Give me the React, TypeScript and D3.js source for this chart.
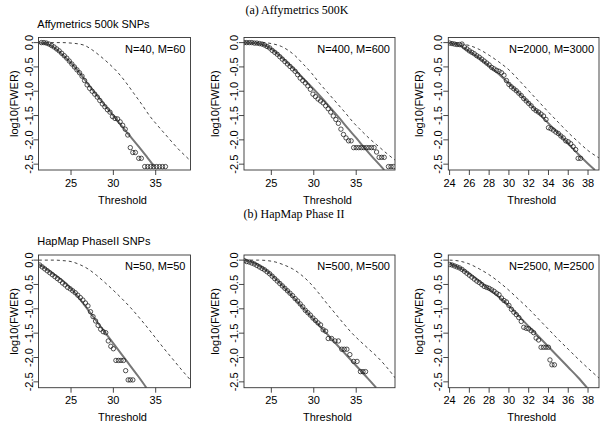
import { useEffect, useRef } from "react";
import * as d3 from "d3";

type Pt = [number, number];

// ---- observed log10(FWER) (circles) ----
const affy40Obs: Pt[] = [
  [21.5, 0], [21.8, 0], [22.1, -0.01], [22.4, -0.03], [22.7, -0.06], [23.0, -0.09],
  [23.3, -0.13], [23.6, -0.17], [23.9, -0.22], [24.2, -0.27], [24.5, -0.32], [24.8, -0.38],
  [25.1, -0.44], [25.4, -0.5], [25.7, -0.56], [26.0, -0.62], [26.3, -0.69], [26.6, -0.78],
  [26.9, -0.87], [27.2, -0.94], [27.5, -1.0], [27.8, -1.06], [28.1, -1.12], [28.4, -1.19],
  [28.7, -1.26], [29.0, -1.32], [29.3, -1.38], [29.6, -1.43], [29.9, -1.52], [30.2, -1.56],
  [30.5, -1.57], [30.8, -1.63], [31.1, -1.7], [31.4, -1.78], [31.7, -1.9], [32.0, -2.16],
  [32.3, -2.26], [32.6, -2.26], [33.0, -2.38], [33.3, -2.38], [33.7, -2.55], [34.05, -2.55],
  [34.4, -2.55], [34.75, -2.55], [35.1, -2.55], [35.45, -2.55], [35.8, -2.55], [36.15, -2.55],
];
const affy400Obs: Pt[] = [
  [21.8, 0], [22.1, 0], [22.4, 0], [22.7, 0], [23.0, -0.01], [23.3, -0.01], [23.6, -0.02],
  [23.9, -0.03], [24.2, -0.05], [24.5, -0.08], [24.8, -0.11], [25.1, -0.16], [25.4, -0.2],
  [25.7, -0.24], [26.0, -0.29], [26.3, -0.34], [26.6, -0.39], [26.9, -0.44], [27.2, -0.49],
  [27.5, -0.54], [27.8, -0.59], [28.1, -0.66], [28.4, -0.73], [28.7, -0.78], [29.0, -0.83],
  [29.3, -0.89], [29.6, -0.96], [29.9, -1.06], [30.2, -1.11], [30.5, -1.16], [30.8, -1.2],
  [31.1, -1.24], [31.4, -1.3], [31.7, -1.36], [32.0, -1.43], [32.3, -1.51], [32.6, -1.58],
  [32.9, -1.66], [33.2, -1.78], [33.5, -1.89], [33.8, -1.96], [34.1, -2.02], [34.4, -2.02],
  [34.7, -2.16], [35.0, -2.16], [35.3, -2.16], [35.6, -2.16], [35.9, -2.16], [36.2, -2.16],
  [36.5, -2.16], [36.8, -2.16], [37.1, -2.16], [37.4, -2.25], [37.7, -2.36], [38.0, -2.36],
  [38.3, -2.36], [38.8, -2.55], [39.1, -2.55], [39.4, -2.55],
];
const affy2000Obs: Pt[] = [
  [24.0, -0.01], [24.25, -0.02], [24.5, -0.03], [24.75, -0.04], [25.0, -0.04], [25.25, -0.03],
  [25.5, -0.09], [25.75, -0.13], [26.0, -0.17], [26.25, -0.2], [26.5, -0.23], [26.75, -0.27],
  [27.0, -0.3], [27.25, -0.34], [27.5, -0.38], [27.75, -0.42], [28.0, -0.46], [28.25, -0.51],
  [28.5, -0.54], [28.75, -0.57], [29.0, -0.59], [29.25, -0.62], [29.5, -0.67], [29.75, -0.78],
  [30.0, -0.86], [30.25, -0.91], [30.5, -0.95], [30.75, -0.99], [31.0, -1.04], [31.25, -1.09],
  [31.5, -1.15], [31.75, -1.2], [32.0, -1.25], [32.25, -1.3], [32.5, -1.36], [32.75, -1.4],
  [33.0, -1.43], [33.25, -1.47], [33.5, -1.51], [33.75, -1.58], [34.0, -1.75], [34.25, -1.77],
  [34.5, -1.8], [34.75, -1.84], [35.0, -1.87], [35.25, -1.92], [35.5, -1.96], [35.75, -2.02],
  [36.0, -2.04], [36.25, -2.08], [36.5, -2.14], [36.75, -2.2], [37.0, -2.38], [37.25, -2.38],
];
const hap50Obs: Pt[] = [
  [21.3, -0.1], [21.6, -0.14], [21.9, -0.18], [22.2, -0.22], [22.5, -0.26], [22.8, -0.3],
  [23.1, -0.34], [23.4, -0.38], [23.7, -0.42], [24.0, -0.47], [24.3, -0.51], [24.6, -0.56],
  [24.9, -0.59], [25.2, -0.63], [25.5, -0.67], [25.8, -0.72], [26.1, -0.77], [26.4, -0.82],
  [26.7, -0.88], [27.0, -0.94], [27.3, -1.06], [27.6, -1.16], [27.9, -1.25], [28.2, -1.34],
  [28.5, -1.42], [28.8, -1.47], [29.1, -1.49], [29.4, -1.66], [29.7, -1.77], [30.0, -1.82],
  [30.3, -2.06], [30.6, -2.06], [30.9, -2.06], [31.2, -2.06], [31.45, -2.27], [31.75, -2.46],
  [32.0, -2.46], [32.3, -2.46],
];
const hap500Obs: Pt[] = [
  [21.8, -0.01], [22.1, -0.03], [22.4, -0.04], [22.7, -0.06], [23.0, -0.08], [23.3, -0.11],
  [23.6, -0.14], [23.9, -0.17], [24.2, -0.2], [24.5, -0.24], [24.8, -0.28], [25.1, -0.33],
  [25.4, -0.38], [25.7, -0.43], [26.0, -0.48], [26.3, -0.53], [26.6, -0.58], [26.9, -0.63],
  [27.2, -0.68], [27.5, -0.73], [27.8, -0.79], [28.1, -0.84], [28.4, -0.9], [28.7, -0.96],
  [29.0, -1.03], [29.3, -1.08], [29.6, -1.13], [29.9, -1.19], [30.2, -1.24], [30.5, -1.29],
  [30.8, -1.33], [31.1, -1.43], [31.4, -1.46], [31.7, -1.61], [32.1, -1.61], [32.5, -1.66],
  [32.9, -1.66], [33.3, -1.83], [33.6, -1.83], [33.9, -1.83], [34.25, -1.94], [34.7, -2.08],
  [35.1, -2.08], [35.5, -2.29], [35.8, -2.29], [36.1, -2.29],
];
const hap2500Obs: Pt[] = [
  [24.0, -0.09], [24.25, -0.1], [24.5, -0.12], [24.75, -0.14], [25.0, -0.16], [25.25, -0.19],
  [25.5, -0.23], [25.75, -0.27], [26.0, -0.31], [26.25, -0.35], [26.5, -0.39], [26.75, -0.43],
  [27.0, -0.46], [27.25, -0.5], [27.5, -0.54], [27.75, -0.56], [28.0, -0.58], [28.25, -0.61],
  [28.5, -0.64], [28.75, -0.68], [29.0, -0.71], [29.25, -0.78], [29.5, -0.83], [29.75, -0.86],
  [30.0, -0.93], [30.25, -1.01], [30.5, -1.07], [30.75, -1.12], [31.0, -1.18], [31.25, -1.26],
  [31.5, -1.38], [31.75, -1.4], [32.0, -1.41], [32.25, -1.45], [32.5, -1.49], [32.75, -1.6],
  [33.0, -1.64], [33.25, -1.79], [33.5, -1.79], [33.75, -1.79], [34.0, -1.79], [34.15, -2.05],
  [34.35, -2.15], [34.6, -2.15],
];

// ---- approximation (solid grey line) ----
const affy40Approx: Pt[] = [
  [21.2, 0], [22, -0.02], [23, -0.1], [24, -0.25], [25, -0.42], [26, -0.62], [27, -0.85],
  [28, -1.07], [29, -1.29], [30, -1.5], [31, -1.72], [32, -1.93], [33, -2.14], [34, -2.36],
  [34.85, -2.55],
];
const affy400Approx: Pt[] = [
  [21.8, 0], [23, -0.01], [24, -0.04], [25, -0.13], [26, -0.27], [27, -0.43], [28, -0.6],
  [29, -0.78], [30, -0.96], [31, -1.15], [32, -1.35], [33, -1.55], [34, -1.76], [35, -1.96],
  [36, -2.17], [37, -2.37], [38, -2.56], [38.3, -2.62],
];
const affy2000Approx: Pt[] = [
  [23.9, -0.01], [25, -0.06], [26, -0.18], [27, -0.32], [28, -0.48], [29, -0.65], [30, -0.84],
  [31, -1.04], [32, -1.24], [33, -1.45], [34, -1.66], [35, -1.87], [36, -2.08], [37, -2.29],
  [38, -2.49], [38.7, -2.62],
];
const hap50Approx: Pt[] = [
  [21.2, -0.09], [22, -0.17], [23, -0.29], [24, -0.42], [25, -0.58], [26, -0.79], [27, -1.02],
  [28, -1.25], [29, -1.48], [30, -1.71], [31, -1.94], [32, -2.17], [33, -2.4], [33.9, -2.62],
];
const hap500Approx: Pt[] = [
  [21.8, 0], [23, -0.06], [24, -0.16], [25, -0.3], [26, -0.47], [27, -0.65], [28, -0.84],
  [29, -1.03], [30, -1.22], [31, -1.41], [32, -1.6], [33, -1.79], [34, -1.98], [35, -2.17],
  [36, -2.36], [37, -2.55], [37.35, -2.62],
];
const hap2500Approx: Pt[] = [
  [24, -0.07], [25, -0.16], [26, -0.28], [27, -0.43], [28, -0.6], [29, -0.76], [30, -0.94],
  [31, -1.15], [32, -1.36], [33, -1.57], [34, -1.78], [35, -1.99], [36, -2.2], [37, -2.41],
  [37.9, -2.62],
];

// ---- bound (dashed black line) ----
const affy40Bound: Pt[] = [
  [21.2, 0], [24, 0], [25, -0.01], [26, -0.03], [26.5, -0.05], [27.5, -0.15], [28.4, -0.27],
  [29.4, -0.42], [30.4, -0.59], [31.4, -0.8], [32.4, -1.04], [33.4, -1.28], [34.3, -1.51],
  [35.3, -1.72], [36.3, -1.92], [37.1, -2.08], [37.9, -2.23], [38.5, -2.33], [39.1, -2.43],
];
const affy400Bound: Pt[] = [
  [21.8, 0], [24, 0], [25, -0.02], [26.2, -0.08], [27, -0.16], [27.8, -0.27], [28.8, -0.45],
  [29.75, -0.63], [30.7, -0.84], [31.7, -1.04], [32.7, -1.24], [33.7, -1.44], [34.6, -1.63],
  [35.6, -1.81], [36.6, -1.98], [37.6, -2.13], [38.6, -2.28], [39.6, -2.42],
];
const affy2000Bound: Pt[] = [
  [23.9, 0], [25, -0.02], [26, -0.06], [27, -0.14], [28, -0.26], [29, -0.4], [30, -0.56],
  [31, -0.77], [32, -0.99], [33, -1.21], [34, -1.43], [35, -1.64], [36, -1.85], [37, -2.04],
  [38, -2.22], [39.1, -2.37],
];
const hap50Bound: Pt[] = [
  [21.2, 0], [23, 0], [24, -0.01], [25, -0.03], [26, -0.09], [27, -0.18], [28, -0.31],
  [29, -0.46], [30, -0.62], [31, -0.79], [32, -0.97], [33, -1.17], [34, -1.38], [35, -1.6],
  [36, -1.82], [37, -2.03], [38, -2.24], [39.1, -2.46],
];
const hap500Bound: Pt[] = [
  [21.8, 0], [23.5, 0], [24.5, -0.01], [25.5, -0.04], [26.5, -0.1], [27.5, -0.18], [28.5, -0.3],
  [29.5, -0.46], [30.5, -0.66], [31.5, -0.88], [32.5, -1.09], [33.5, -1.3], [34.5, -1.5],
  [35.5, -1.67], [36.5, -1.83], [37.5, -1.99], [38.5, -2.18], [39.6, -2.42],
];
const hap2500Bound: Pt[] = [
  [24, 0], [25, -0.02], [26, -0.08], [27, -0.18], [28, -0.3], [29, -0.45], [30, -0.62],
  [31, -0.81], [32, -1.0], [33, -1.21], [34, -1.42], [35, -1.63], [36, -1.83], [37, -2.03],
  [38, -2.22], [39.1, -2.42],
];

const panelLabels = [
  "N=40, M=60", "N=400, M=600", "N=2000, M=3000",
  "N=50, M=50", "N=500, M=500", "N=2500, M=2500",
];
const sectionTitles = ["(a) Affymetrics 500K", "(b) HapMap Phase II"];
const rowTitles = ["Affymetrics 500k SNPs", "HapMap PhaseII SNPs"];
const xTicksCoarse = [25, 30, 35];
const xTicksFine = [24, 26, 28, 30, 32, 34, 36, 38];
const yTicks = [0, -0.5, -1, -1.5, -2, -2.5];
const yDomain: [number, number] = [-2.62, 0.105];

const obsSeries = [affy40Obs, affy400Obs, affy2000Obs, hap50Obs, hap500Obs, hap2500Obs];
const approxSeries = [affy40Approx, affy400Approx, affy2000Approx, hap50Approx, hap500Approx, hap2500Approx];
const boundSeries = [affy40Bound, affy400Bound, affy2000Bound, hap50Bound, hap500Bound, hap2500Bound];

// layout of the 3x2 grid
const COLS = [
  { left: 38.5, right: 190.5, xDomain: [21.16, 39.11], ticks: xTicksCoarse, ylabX: 17.7, tickLabX: 33.3 },
  { left: 244, right: 395, xDomain: [21.78, 39.57], ticks: xTicksCoarse, ylabX: 219.4, tickLabX: 237.7 },
  { left: 448.3, right: 599, xDomain: [23.87, 39.11], ticks: xTicksFine, ylabX: 422.7, tickLabX: 441.7 },
];
const ROWS = [
  { top: 37.5, bottom: 170, sectionY: 13.5, sectionX: 297, titleY: 28 },
  { top: 255, bottom: 387.7, sectionY: 218, sectionX: 294, titleY: 244.7 },
];

const SANS = "'Liberation Sans', Arial, Helvetica, sans-serif";
const SERIF = "'Liberation Serif', 'Times New Roman', serif";

export default function App() {
  const svgRef = useRef<SVGSVGElement>(null);

  useEffect(() => {
    document.body.style.margin = "0";
    const svg = d3.select(svgRef.current!);
    svg.selectAll("*").remove();

    svg.append("rect").attr("width", 603).attr("height", 425).attr("fill", "#fff");

    ROWS.forEach((row, r) => {
      svg.append("text")
        .attr("x", row.sectionX)
        .attr("y", row.sectionY)
        .attr("text-anchor", "middle")
        .attr("font-family", SERIF)
        .attr("font-size", "12px")
        .text(sectionTitles[r]);

      svg.append("text")
        .attr("x", 37.3)
        .attr("y", row.titleY)
        .attr("font-family", SANS)
        .attr("font-size", "11px")
        .text(rowTitles[r]);

      COLS.forEach((col, c) => {
        const i = r * 3 + c;
        const x = d3.scaleLinear().domain(col.xDomain).range([col.left, col.right]);
        const y = d3.scaleLinear().domain(yDomain).range([row.bottom, row.top]);
        const g = svg.append("g");

        const clipId = `clip-${i}`;
        svg.append("clipPath")
          .attr("id", clipId)
          .append("rect")
          .attr("x", col.left)
          .attr("y", row.top)
          .attr("width", col.right - col.left)
          .attr("height", row.bottom - row.top);

        const plot = g.append("g").attr("clip-path", `url(#${clipId})`);

        const line = d3.line<Pt>()
          .x((d) => x(d[0]))
          .y((d) => y(d[1]))
          .curve(d3.curveMonotoneX);

        // dashed bound
        plot.append("path")
          .attr("d", line(boundSeries[i]))
          .attr("fill", "none")
          .attr("stroke", "#111")
          .attr("stroke-width", 0.8)
          .attr("stroke-dasharray", "3,3");

        // solid grey approximation
        plot.append("path")
          .attr("d", line(approxSeries[i]))
          .attr("fill", "none")
          .attr("stroke", "#777")
          .attr("stroke-width", 2);

        // observed circles
        plot.selectAll("circle")
          .data(obsSeries[i])
          .join("circle")
          .attr("cx", (d) => x(d[0]))
          .attr("cy", (d) => y(d[1]))
          .attr("r", 2.2)
          .attr("fill", "none")
          .attr("stroke", "#1a1a1a")
          .attr("stroke-width", 0.75);

        // box
        g.append("rect")
          .attr("x", col.left)
          .attr("y", row.top)
          .attr("width", col.right - col.left)
          .attr("height", row.bottom - row.top)
          .attr("fill", "none")
          .attr("stroke", "#333")
          .attr("stroke-width", 0.9);

        // x axis ticks
        col.ticks.forEach((t) => {
          g.append("line")
            .attr("x1", x(t)).attr("x2", x(t))
            .attr("y1", row.bottom).attr("y2", row.bottom + 5)
            .attr("stroke", "#333").attr("stroke-width", 0.9);
          g.append("text")
            .attr("x", x(t))
            .attr("y", row.bottom + 16.5)
            .attr("text-anchor", "middle")
            .attr("font-family", SANS)
            .attr("font-size", "11px")
            .text(String(t));
        });

        // y axis ticks (labels rotated as in R)
        yTicks.forEach((t) => {
          g.append("line")
            .attr("x1", col.left - 5).attr("x2", col.left)
            .attr("y1", y(t)).attr("y2", y(t))
            .attr("stroke", "#333").attr("stroke-width", 0.9);
          g.append("text")
            .attr("transform", `translate(${col.tickLabX},${y(t)}) rotate(-90)`)
            .attr("text-anchor", "middle")
            .attr("font-family", SANS)
            .attr("font-size", "11px")
            .text(d3.format(".1f")(t).replace("−", "-"));
        });

        g.append("text")
          .attr("x", (col.left + col.right) / 2 + 8)
          .attr("y", row.bottom + 33.5)
          .attr("text-anchor", "middle")
          .attr("font-family", SANS)
          .attr("font-size", "11px")
          .text("Threshold");

        g.append("text")
          .attr("transform", `translate(${col.ylabX},${(row.top + row.bottom) / 2}) rotate(-90)`)
          .attr("text-anchor", "middle")
          .attr("font-family", SANS)
          .attr("font-size", "11px")
          .text("log10(FWER)");

        g.append("text")
          .attr("x", col.right - 5)
          .attr("y", row.top + 15)
          .attr("text-anchor", "end")
          .attr("font-family", SANS)
          .attr("font-size", "11px")
          .text(panelLabels[i]);
      });
    });
  }, []);

  return <svg ref={svgRef} width={603} height={425} style={{ display: "block" }} />;
}
